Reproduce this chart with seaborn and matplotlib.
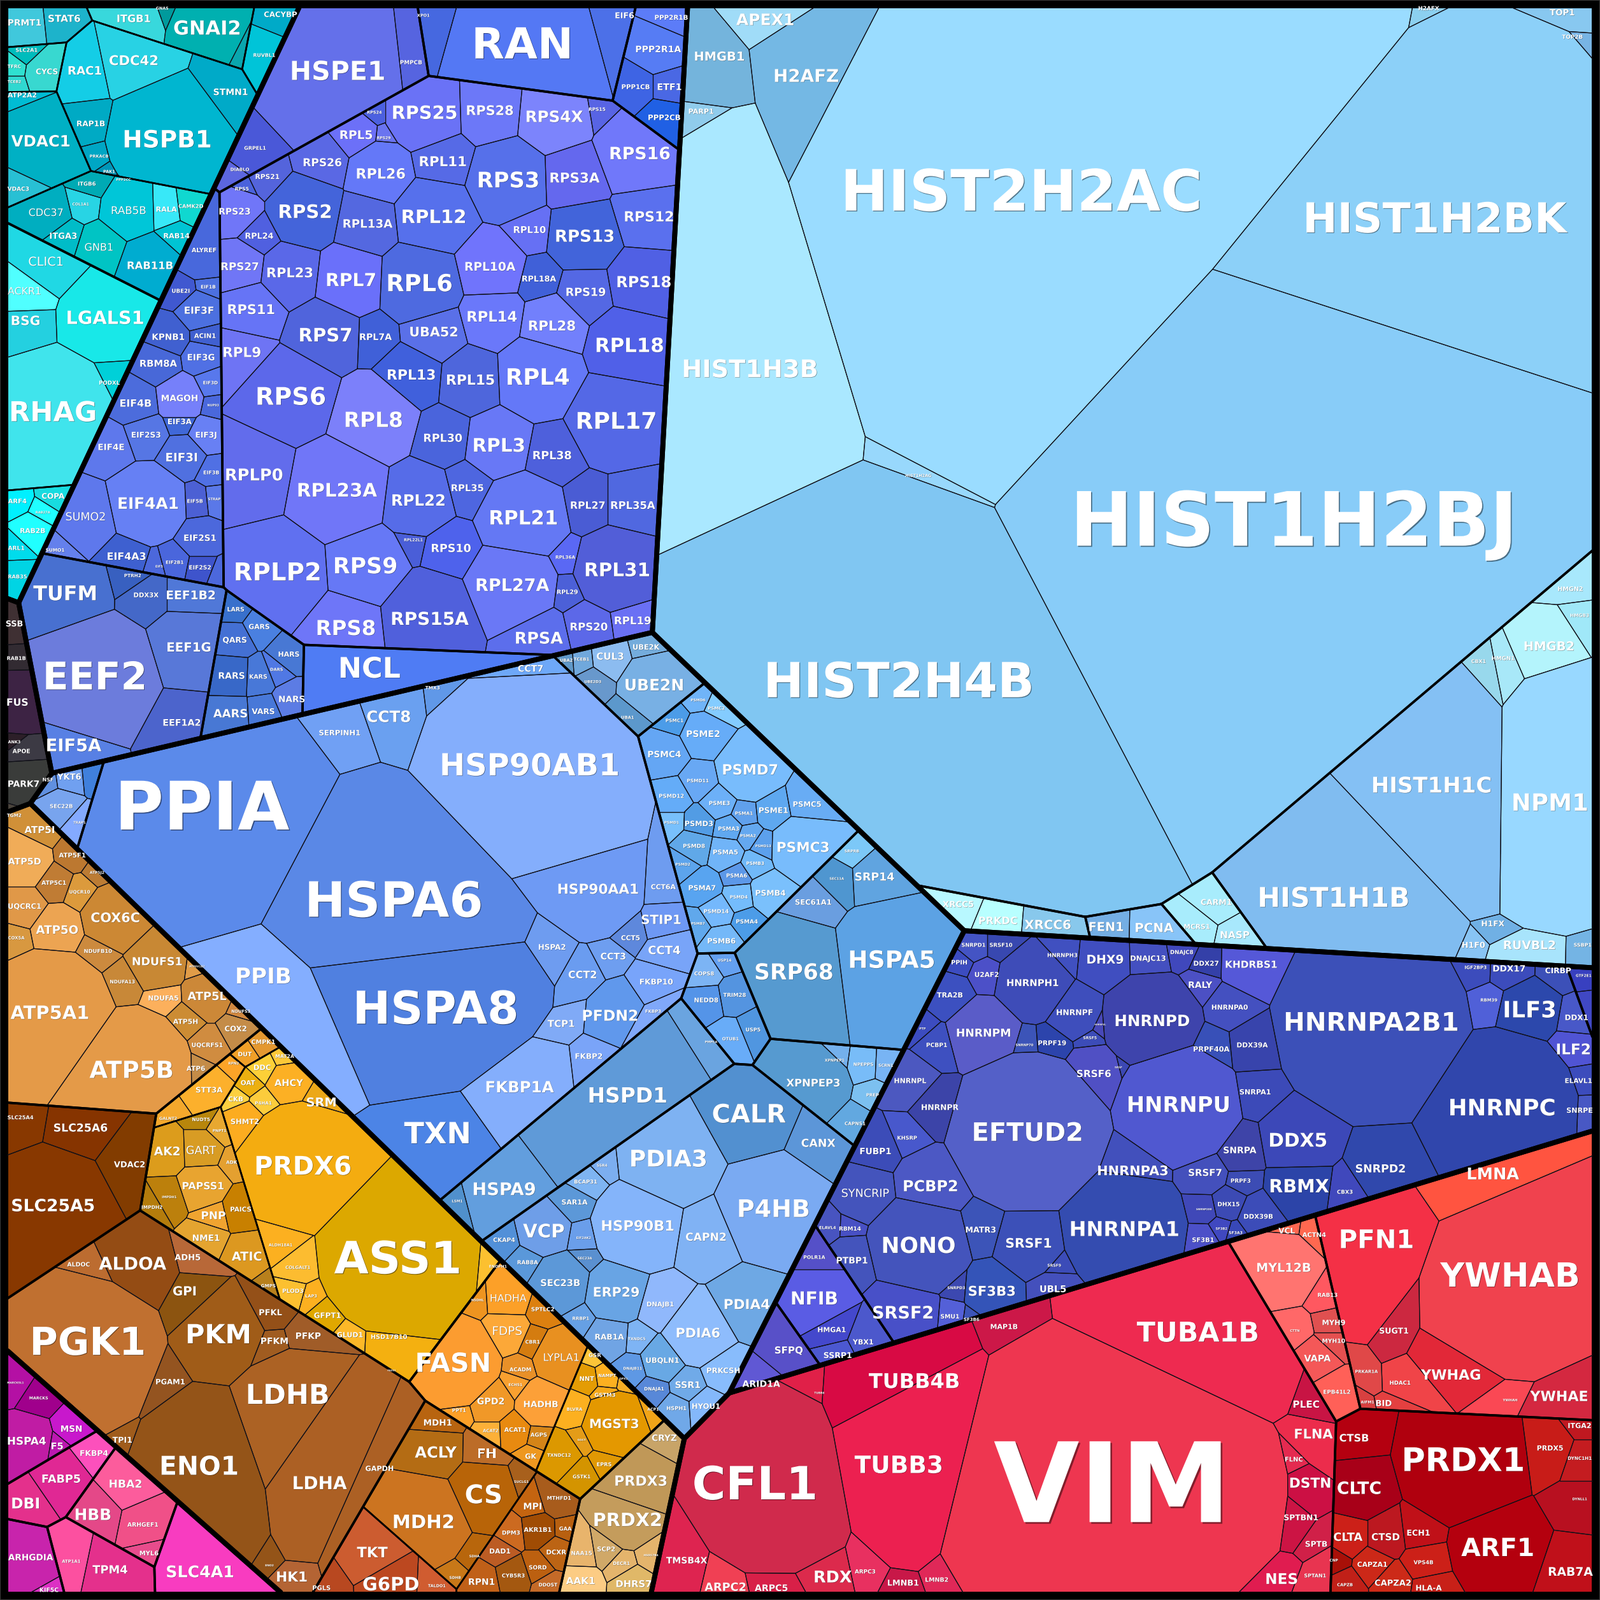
import numpy as np
import seaborn as sns
import matplotlib
matplotlib.use("Agg")
import matplotlib.pyplot as plt
import matplotlib.patheffects as pe
from matplotlib.collections import LineCollection
from matplotlib.colors import ListedColormap
from matplotlib.font_manager import FontProperties
from matplotlib.patches import Rectangle
from matplotlib.textpath import TextPath

# Cells: protein, label x, label y, label width, cell radius, colour.
# The cell outlines themselves are computed below (weighted Voronoi / linear splits).
t1 = [("PRMT1", 24, 22, 32, 22, "#40c8dc"), ("STAT6", 63, 18, 31, 22, "#1db3cb")]
t2 = [("SLC2A1", 26, 49, 21, 13, "#00bcbc"), ("TFRC", 14, 65, 13, 10, "#2fe0d0"), ("TCEB2", 14, 80, 13, 7, "#30d8d0"),
      ("CYCS", 46, 70, 21, 20, "#38d8d0")]
t3 = [("ITGB1", 131, 18, 32, 26, "#38d8dc"), ("GNAS", 159, 8, 12, 7, "#009a9c"), ("GNAI2", 203, 27, 64, 35, "#00b0b0"),
      ("", 242, 47, 5, 4, "#0aa6ae")]
t4 = [("CACYBP", 275, 14, 32, 15, "#00aac8"), ("RUVBL1", 259, 54, 21, 20, "#00c4d8")]
t5 = [("RAC1", 83, 69, 32, 27, "#14cde6"), ("CDC42", 131, 59, 47, 36, "#28d2e4"), ("HSPB1", 164, 136, 84, 60, "#00b6d0"),
      ("STMN1", 226, 90, 33, 26, "#00aac8"), ("RAP1B", 89, 121, 27, 18, "#00aac4"), ("PRKACB", 97, 153, 18, 10, "#00a6c4"),
      ("PAK1", 107, 168, 11, 8, "#0096b8"), ("PPP2CC", 121, 176, 14, 8, "#28d4e8")]
t6 = [("VDAC1", 40, 138, 57, 38, "#00b0c4"), ("ATP2A2", 22, 93, 28, 8, "#00bcd4"), ("VDAC3", 18, 185, 21, 16, "#28c0d4")]
t7 = [("CDC37", 45, 208, 33, 24, "#00aec0"), ("COL1A1", 79, 200, 16, 12, "#28d4e4"), ("ITGA3", 62, 231, 26, 16, "#00bcc8"),
      ("ITGB6", 85, 180, 17, 10, "#00aab4"), ("GNB1", 97, 242, 27, 20, "#00c4c4"), ("RAB5B", 126, 206, 33, 24, "#00c6d8"),
      ("RALA", 163, 205, 20, 12, "#38e8f8"), ("CAMK2D", 187, 202, 24, 12, "#10d8d0"), ("RAB14", 173, 231, 25, 8, "#00c4d4"),
      ("RAB11B", 147, 260, 44, 26, "#00acd0")]
t8 = [("CLIC1", 45, 256, 33, 28, "#20d8e4"), ("ACKR1", 24, 285, 32, 22, "#50ffff"), ("BSG", 25, 314, 27, 14, "#24d0e0"),
      ("LGALS1", 103, 311, 74, 40, "#18e8e8"), ("RHAG", 52, 403, 82, 58, "#40e4ec"), ("PODXL", 107, 375, 20, 10, "#00d0d8")]
t9 = [("COPA", 52, 486, 22, 10, "#18dce0"), ("ARF4", 17, 491, 18, 9, "#00f0ff"), ("RAB27A", 42, 502, 14, 9, "#20ffff"),
      ("RAB2B", 32, 520, 24, 15, "#20ffff"), ("ARL1", 16, 537, 16, 9, "#00dcec"), ("RAB35", 17, 565, 18, 14, "#00d4e4")]

d1 = [("SSB", 14, 611, 16, 17, "#3f3033"), ("RAB1B", 16, 645, 18, 8, "#322b32"), ("FUS", 17, 688, 20, 30, "#3d2344"),
      ("ANK3", 14, 727, 12, 4, "#2c1f28"), ("APOE", 21, 736, 17, 9, "#3c3a44"), ("PARK7", 23, 768, 30, 22, "#3a3c3a"),
      ("TGM2", 14, 799, 14, 8, "#4a443c")]

tr1 = [("HSPE1", 331, 69, 90, 90, "#6470ea"), ("PMPCB", 403, 61, 21, 67, "#5664e0"), ("GRPEL1", 250, 145, 21, 39, "#4a58d8"),
       ("DIABLO", 235, 166, 18, 30, "#5c66e0")]
tr2 = [("XPO1", 415, 15, 12, 9, "#4668e0"), ("RAN", 512, 42, 92, 66, "#5478f4"), ("EIF6", 612, 15, 18, 14, "#4c70e8")]
tr3 = [("PPP2R1B", 658, 17, 32, 14, "#5c7cf8"), ("PPP2R1A", 645, 48, 44, 22, "#567cf4"), ("PPP1CB", 623, 85, 27, 16, "#3e64e4"),
       ("ETF1", 656, 85, 23, 15, "#4a68e4"), ("PPP2CB", 651, 115, 31, 17, "#2060e4")]
tr4 = [("RPS25", 416, 110, 62, 38, "#6a72f6"), ("RPS28", 480, 108, 45, 32, "#6c78f8"), ("RPS4X", 543, 114, 55, 36, "#7c84fc"),
       ("RPS15", 585, 107, 16, 10, "#5864e4"), ("RPS16", 627, 150, 58, 42, "#7078fa"), ("RPL5", 349, 132, 31, 20, "#6c70f8"),
       ("RPS29", 376, 135, 13, 8, "#6a74f0"), ("RPS24", 367, 110, 14, 8, "#4c60e0"), ("RPL11", 434, 158, 45, 28, "#566ae6"),
       ("RPS26", 316, 159, 37, 23, "#5a68e4"), ("RPL26", 373, 170, 47, 32, "#6478f8"), ("RPS3", 498, 176, 58, 40, "#5670ea"),
       ("RPS3A", 563, 174, 48, 32, "#6468ee"), ("RPS21", 262, 173, 23, 16, "#5464dc"), ("RPS5", 237, 185, 13, 10, "#4a62dc"),
       ("RPS2", 299, 207, 50, 36, "#4464da"), ("RPL12", 425, 212, 61, 40, "#5670ec"), ("RPL13A", 360, 219, 48, 32, "#5468e0"),
       ("RPS12", 636, 212, 47, 34, "#5a70ee"), ("RPS13", 573, 231, 56, 36, "#4264da"), ("RPL10", 519, 225, 31, 20, "#6670f4"),
       ("RPS23", 230, 207, 30, 24, "#7076f8"), ("RPL24", 254, 231, 27, 19, "#5060e0"), ("RPL10A", 480, 261, 49, 34, "#7074fc"),
       ("RPS18", 631, 276, 52, 35, "#5060e4"), ("RPL6", 411, 277, 62, 42, "#4e6ae0"), ("RPL7", 344, 274, 47, 35, "#6a70fa"),
       ("RPL23", 284, 267, 44, 30, "#5a68e8"), ("RPS27", 235, 261, 36, 26, "#7076f6"), ("RPL18A", 528, 273, 33, 19, "#4060d8"),
       ("RPS19", 574, 286, 38, 26, "#5468e4"), ("RPS11", 246, 303, 45, 28, "#6674f6"), ("RPL14", 482, 310, 48, 30, "#6a78fa"),
       ("RPL28", 541, 319, 45, 30, "#7280fc"), ("UBA52", 425, 325, 46, 30, "#5a70e8"), ("RPS7", 319, 328, 50, 34, "#5064dc"),
       ("RPL7A", 368, 330, 31, 19, "#4060d8"), ("RPL18", 617, 338, 65, 38, "#5060e8"), ("RPL9", 237, 345, 36, 24, "#6e74f4"),
       ("RPL13", 403, 367, 46, 30, "#4060dc"), ("RPL15", 461, 372, 46, 30, "#4e66dc"), ("RPL4", 527, 369, 60, 40, "#6478f8"),
       ("RPS6", 285, 388, 66, 44, "#5c68ea"), ("RPL8", 366, 411, 55, 42, "#7c80fa"), ("RPL30", 434, 429, 37, 25, "#4a64dc"),
       ("RPL3", 489, 436, 49, 32, "#6878f6"), ("RPL38", 541, 446, 37, 26, "#4e60dc"), ("RPL17", 604, 412, 76, 45, "#5468e6"),
       ("RPLP0", 249, 465, 55, 40, "#626cec"), ("RPL23A", 330, 480, 77, 50, "#7076f8"), ("RPL22", 410, 490, 51, 35, "#566ce8"),
       ("RPL35", 458, 478, 31, 22, "#4e66e0"), ("RPL21", 513, 507, 65, 44, "#6478f4"), ("RPL27", 576, 495, 33, 23, "#4a5cd4"),
       ("RPL35A", 620, 495, 43, 27, "#5068e0"), ("RPL22L1", 405, 529, 18, 7, "#4a5ed8"), ("RPS10", 442, 537, 38, 24, "#4e62ec"),
       ("RPLP2", 272, 560, 82, 48, "#6070f0"), ("RPS9", 358, 554, 60, 38, "#6678f6"), ("RPL31", 605, 558, 62, 42, "#525ed8"),
       ("RPL36A", 554, 546, 19, 13, "#5a68f4"), ("RPL27A", 502, 573, 71, 44, "#6a78f6"), ("RPL29", 556, 580, 20, 14, "#4c60d8"),
       ("RPS15A", 421, 606, 75, 45, "#5060dc"), ("RPS8", 339, 615, 56, 34, "#6e76f8"), ("RPSA", 528, 625, 46, 30, "#5c6eec"),
       ("RPS20", 577, 614, 36, 24, "#5c68e8"), ("RPL19", 620, 608, 35, 22, "#6a70f4")]
tr5 = [("ALYREF", 200, 245, 24, 28, "#4868dc"), ("EIF1B", 204, 281, 14, 8, "#4c70e0"), ("UBE2I", 177, 285, 17, 12, "#4058d0"),
       ("EIF3F", 195, 304, 28, 18, "#4c70e0"), ("KPNB1", 165, 330, 31, 17, "#4060d0"), ("ACIN1", 201, 329, 21, 9, "#4060d0"),
       ("RBM8A", 155, 356, 36, 18, "#4868d8"), ("EIF3G", 197, 350, 26, 14, "#5070e4"), ("EIF3D", 206, 375, 14, 10, "#5878ec"),
       ("MAGOH", 176, 390, 35, 21, "#7680fa"), ("NUP93", 209, 397, 11, 4, "#4a68dc"), ("EIF4B", 133, 395, 30, 20, "#4c6cdc"),
       ("EIF3A", 176, 413, 23, 10, "#4068d8"), ("EIF2S3", 143, 426, 28, 19, "#5676e4"), ("EIF3J", 202, 426, 20, 14, "#6880f4"),
       ("EIF4E", 109, 438, 25, 19, "#5e78ec"), ("EIF3I", 178, 448, 30, 20, "#5070e0"), ("EIF3B", 207, 463, 15, 9, "#5070e4"),
       ("EIF4A1", 145, 493, 58, 38, "#6680f4"), ("EIF5B", 191, 491, 15, 13, "#4c60d4"), ("STRAP", 210, 489, 12, 9, "#5a78e8"),
       ("SUMO2", 84, 506, 38, 28, "#5e78ec"), ("EIF2S1", 196, 527, 31, 18, "#4c68dc"), ("SUMO1", 54, 539, 18, 7, "#6480ec"),
       ("EIF4A3", 124, 545, 37, 15, "#3e60d0"), ("EIF5", 156, 555, 7, 4, "#4c68dc"), ("EIF2B1", 171, 551, 17, 12, "#4a66dc"),
       ("EIF2S2", 196, 556, 21, 11, "#3e54cc"), ("", 214, 563, 5, 6, "#4c68dc")]
tr6 = [("TUFM", 64, 581, 61, 40, "#4870d0"), ("PTRH2", 130, 564, 16, 9, "#3860c0"), ("DDX3X", 143, 583, 24, 13, "#4468c8"),
       ("EEF1B2", 187, 583, 47, 17, "#5078d8"), ("EEF2", 93, 662, 96, 60, "#6c7cdc"), ("EEF1G", 185, 634, 42, 34, "#5878d8"),
       ("EEF1A2", 178, 708, 36, 20, "#4c64cc"), ("EIF5A", 72, 730, 53, 18, "#5880e4")]
tr7 = [("LARS", 231, 597, 16, 9, "#3870cc"), ("GARS", 254, 614, 20, 12, "#4a80e0"), ("QARS", 230, 627, 23, 14, "#4470d4"),
       ("HARS", 283, 641, 20, 14, "#4878d4"), ("RARS", 227, 662, 25, 17, "#3868c8"), ("KARS", 253, 663, 17, 13, "#4878d8"),
       ("DARS", 271, 656, 12, 9, "#5078e4"), ("NARS", 286, 685, 25, 12, "#5c7ce4"), ("AARS", 226, 699, 33, 13, "#4878d4"),
       ("VARS", 258, 697, 22, 10, "#4878d8")]
tr8 = [("NCL", 362, 654, 58, 38, "#4f7cf4")]

f1 = [("NSF", 47, 764, 10, 7, "#6090e0"), ("YKT6", 68, 761, 23, 12, "#70a0f0"), ("SEC22B", 60, 790, 22, 14, "#78a4ee"),
      ("", 89, 759, 5, 6, "#4080dc"), ("TRAP1", 78, 806, 12, 10, "#84aaff")]
f2 = [("PPIA", 198, 789, 165, 105, "#5b8aea"), ("SERPINH1", 333, 718, 40, 26, "#70a0f4"), ("CCT8", 381, 702, 42, 26, "#6aa0f0"),
      ("TMX3", 424, 674, 14, 10, "#6098e8"), ("CCT7", 520, 655, 24, 9, "#6ea8f8"), ("HSP90AB1", 519, 749, 172, 110, "#84aefc"),
      ("HSPA6", 386, 881, 168, 105, "#5a88e6"), ("HSP90AA1", 586, 871, 78, 50, "#6e9af4"), ("PPIB", 258, 956, 52, 45, "#84aeff"),
      ("HSPA8", 427, 987, 156, 95, "#5080e0"), ("HSPA2", 541, 928, 26, 18, "#6e9cf0"), ("CCT6A", 650, 869, 24, 18, "#6e9cf0"),
      ("STIP1", 648, 901, 38, 18, "#6e98f4"), ("CCT5", 618, 919, 18, 10, "#5e88dc"), ("CCT3", 601, 937, 24, 17, "#6e9ef0"),
      ("CCT4", 651, 931, 31, 17, "#78a4f8"), ("CCT2", 571, 955, 27, 20, "#6a9cf0"), ("FKBP10", 643, 962, 32, 18, "#78a4fa"),
      ("PFDN2", 598, 995, 53, 28, "#6098ec"), ("FKBP3", 640, 991, 15, 8, "#80a8fa"), ("TCP1", 550, 1003, 26, 16, "#80aaf6"),
      ("FKBP2", 577, 1035, 26, 14, "#7aa4f8"), ("FKBP1A", 509, 1065, 66, 48, "#84aefc"), ("TXN", 429, 1110, 63, 50, "#4c84e6")]
f3 = [("LSM1", 448, 1177, 10, 24, "#5090cc"), ("HSPA9", 494, 1165, 60, 45, "#629ede"), ("HSPD1", 615, 1073, 75, 110, "#5f9ad8"),
      ("PMPCA", 697, 1021, 12, 81, "#6aa4e0")]
f4 = [("CALR", 734, 1091, 71, 42, "#5290d0"), ("PDIA3", 655, 1135, 73, 48, "#7eb2f2"), ("P4HB", 758, 1184, 68, 52, "#7aaaf2"),
      ("CANX", 802, 1120, 33, 22, "#5c96d8"), ("HSP90B1", 625, 1201, 70, 44, "#84b4fa"), ("CAPN2", 692, 1212, 39, 30, "#80b2f4"),
      ("SSR4", 590, 1142, 10, 6, "#7caef0"), ("BCAP31", 574, 1158, 22, 13, "#7eb4f2"), ("SAR1A", 563, 1178, 25, 14, "#5c98d8"),
      ("VCP", 533, 1206, 40, 24, "#6e9ee8"), ("CKAP4", 494, 1215, 21, 9, "#5290d8"), ("EIF2AK2", 572, 1213, 14, 11, "#6a9eea"),
      ("SEC23B", 549, 1257, 38, 28, "#5c98d8"), ("SEC23A", 573, 1233, 14, 8, "#5a90d0"), ("RAB8A", 517, 1237, 20, 12, "#5a98da"),
      ("ERP29", 604, 1266, 44, 30, "#68a4e4"), ("PDIA4", 732, 1278, 44, 28, "#6ea8e4"), ("DNAJB1", 647, 1278, 26, 22, "#90b8fc"),
      ("PDIA6", 684, 1306, 42, 32, "#8ebcfc"), ("RRBP1", 569, 1292, 16, 9, "#66a0e4"), ("RAB1A", 597, 1310, 28, 19, "#70a4e4"),
      ("TXNDC5", 624, 1312, 17, 12, "#7eb4f4"), ("UBQLN1", 649, 1333, 32, 20, "#68a8e4"), ("PRKCSH", 709, 1343, 32, 19, "#88bcfc"),
      ("DNAJB11", 620, 1341, 18, 12, "#5e98e4"), ("DNAJA1", 641, 1361, 19, 11, "#5888d8"), ("SSR1", 674, 1357, 24, 15, "#70aae8"),
      ("HSPH1", 663, 1380, 19, 12, "#70a8e8"), ("HYOU1", 692, 1378, 27, 16, "#84b8fa")]
f5 = [("PSMD6", 684, 686, 14, 8, "#70b4f8"), ("PSMC2", 702, 694, 16, 8, "#84ccff"), ("PSMC1", 661, 706, 17, 11, "#4c9ce8"),
      ("PSME2", 689, 719, 32, 20, "#66acf8"), ("PSMC4", 651, 739, 32, 20, "#64a6f4"), ("PSMD7", 735, 754, 53, 30, "#78bcfc"),
      ("PSMD11", 684, 765, 21, 14, "#68a8f4"), ("PSMD12", 658, 780, 24, 15, "#64acf8"), ("PSME3", 705, 787, 20, 13, "#6cb0f8"),
      ("PSMC5", 791, 788, 27, 16, "#68acf4"), ("PSME1", 758, 794, 28, 14, "#5ea8f0"), ("PSMA1", 729, 797, 17, 9, "#60a0ec"),
      ("PSMD1", 658, 806, 14, 9, "#78c0fc"), ("PSMD3", 685, 807, 27, 12, "#529ce4"), ("PSMA3", 714, 812, 20, 11, "#60a8f0"),
      ("PSMA2", 733, 819, 15, 8, "#64a8f0"), ("PSMD13", 748, 829, 15, 8, "#5ca0ec"), ("PSMC3", 787, 830, 50, 30, "#78bcfc"),
      ("PSMD8", 680, 829, 21, 15, "#60a8e8"), ("PSMA5", 711, 835, 24, 14, "#70b4f8"), ("PSMB3", 740, 846, 17, 9, "#70b8f8"),
      ("PSMD2", 669, 847, 14, 11, "#5ca4ec"), ("PSMA6", 722, 858, 20, 8, "#5c98e8"), ("PSMA7", 688, 870, 26, 15, "#58a4f0"),
      ("PSMB4", 755, 875, 29, 17, "#7ac0fc"), ("PSMD4", 724, 879, 17, 11, "#74bcfc"), ("PSMD14", 702, 893, 24, 13, "#74b8fc"),
      ("PSMB7", 684, 905, 13, 9, "#60a8ec"), ("PSMA4", 732, 903, 21, 9, "#4c9ce8"), ("PSMB6", 707, 922, 27, 13, "#74b8f8")]
f6 = [("UBA2", 555, 647, 12, 6, "#6098c8"), ("TCEB1", 570, 646, 15, 8, "#70a8dc"), ("CUL3", 598, 643, 26, 16, "#8cbcf0"),
      ("UBE2K", 633, 634, 26, 10, "#74acdc"), ("UBE2D3", 581, 668, 16, 9, "#6898cc"), ("UBE2N", 641, 671, 56, 30, "#78b0e4"),
      ("UBA1", 615, 703, 12, 10, "#5c98cc")]
f7 = [("SEC11A", 820, 861, 14, 10, "#4f96d0"), ("SRP14", 857, 859, 38, 17, "#60a4e0"), ("SEC61A1", 797, 884, 35, 13, "#6a9ee0"),
      ("SRPRB", 835, 834, 14, 7, "#7cc8f8"), ("SRP68", 778, 952, 75, 50, "#569ad0"), ("HSPA5", 874, 940, 82, 55, "#5ca2e4")]
f8 = [("COPS8", 690, 954, 19, 13, "#7cb4f4"), ("USP14", 710, 941, 13, 8, "#64a0f0"), ("NEDD8", 692, 980, 23, 14, "#5494e8"),
      ("TRIM28", 720, 975, 22, 14, "#5494e0"), ("OTUB1", 716, 1018, 16, 13, "#68acf8"), ("USP5", 738, 1009, 14, 11, "#5096e0")]
f9 = [("XPNPEP3", 797, 1061, 52, 34, "#569ad0"), ("XPNPEP1", 818, 1039, 19, 8, "#74b0ec"), ("NPEPPS", 846, 1043, 19, 11, "#78bcf8"),
      ("SCRN1", 868, 1044, 14, 8, "#78b4f4"), ("PREP", 855, 1073, 12, 7, "#7cc0f0"), ("CAPNS1", 838, 1101, 20, 13, "#62a8e0")]

h1 = [("HIST2H2AC", 1001, 186, 346, 210, "#9adcff"), ("HIST1H2BK", 1406, 213, 256, 160, "#8cd0f8"),
      ("HIST1H3B", 735, 361, 130, 95, "#aae8ff"), ("HIST1H2BJ", 1268, 508, 425, 230, "#88ccf8"),
      ("HIST2H4B", 881, 666, 258, 190, "#80c6f2"), ("HIST1H2AG", 900, 466, 25, 3, "#98d8fc"),
      ("H2AFZ", 790, 74, 62, 40, "#74b8e4"), ("APEX1", 750, 19, 56, 14, "#a0dcf8"), ("HMGB1", 705, 55, 48, 25, "#74b4dc"),
      ("PARP1", 687, 109, 24, 14, "#90ccec"), ("H2AFX", 1400, 8, 20, 3, "#8cd0f0"), ("TOP1", 1531, 12, 24, 5, "#88c8f0"),
      ("TOP2B", 1541, 36, 20, 8, "#78b4e4")]
h3 = [("HMGN2", 1539, 577, 24, 14, "#a8e8fc"), ("HMGB3", 1548, 603, 18, 10, "#a0e8f8"), ("HMGB2", 1518, 633, 48, 26, "#b4f4fc"),
      ("HMGN1", 1473, 645, 22, 11, "#a8e8f8"), ("CBX1", 1449, 648, 14, 8, "#98d8ec"), ("HIST1H1C", 1403, 769, 115, 85, "#84c0f4"),
      ("HIST1H1B", 1307, 879, 145, 75, "#80bcf0"), ("NPM1", 1519, 786, 72, 60, "#98d8ff"), ("H1FX", 1463, 905, 22, 12, "#70b0e4"),
      ("H1F0", 1444, 926, 22, 10, "#88c4f4"), ("RUVBL2", 1499, 926, 50, 14, "#a8e4fc"), ("SSBP1", 1551, 926, 17, 9, "#74b4e4")]
h4 = [("XRCC5", 939, 886, 30, 14, "#b8f8ff"), ("PRKDC", 978, 902, 37, 14, "#b8ffff"), ("XRCC6", 1027, 906, 45, 16, "#88c8ec")]
h5 = [("FEN1", 1084, 908, 33, 14, "#74aee4"), ("PCNA", 1131, 909, 37, 16, "#88c4f8")]
h6 = [("CARM1", 1192, 884, 30, 16, "#a8ecfc"), ("MCRS1", 1173, 908, 25, 13, "#a8ecfc"), ("NASP", 1210, 916, 28, 10, "#a8e8fc")]

s1 = [("SNRPD1", 954, 926, 23, 14, "#4454c4"), ("SRSF10", 981, 926, 22, 14, "#3848b0"), ("PPIH", 940, 943, 15, 10, "#3c4cc0"),
      ("U2AF2", 967, 955, 23, 14, "#4c50c8"), ("HNRNPH3", 1041, 936, 29, 16, "#4050c0"), ("DHX9", 1083, 940, 35, 26, "#404ec0"),
      ("DNAJC13", 1125, 939, 34, 20, "#4450c0"), ("DNAJC8", 1158, 933, 22, 13, "#4048bc"), ("DDX27", 1182, 944, 24, 13, "#3440a8"),
      ("KHDRBS1", 1226, 945, 50, 28, "#5558d8"), ("RALY", 1176, 965, 23, 14, "#4c50c4"), ("TRA2B", 931, 975, 25, 20, "#3c50c0"),
      ("HNRNPH1", 1012, 963, 50, 36, "#3e4cb8"), ("HNRNPF", 1053, 992, 35, 24, "#3e4ebc"), ("HNRNPA0", 1205, 987, 35, 20, "#4450c0"),
      ("HNRNPD", 1129, 1000, 72, 48, "#3e44ac"), ("PTP", 904, 1008, 6, 6, "#3c4cc0"), ("PCBP1", 918, 1024, 20, 14, "#3e50c0"),
      ("HNRNPM", 964, 1012, 52, 34, "#5a5cc8"), ("SNRNP70", 1004, 1024, 17, 10, "#3c54b8"), ("PRPF19", 1031, 1022, 27, 12, "#2c44ac"),
      ("SRSF5", 1068, 1017, 13, 5, "#3c4cb8"), ("HNRNPUL", 1078, 1004, 11, 6, "#4848b8"), ("SRSF6", 1072, 1052, 33, 26, "#5050c4"),
      ("SRSF", 1096, 1046, 7, 5, "#3c48b4"), ("PRPF40A", 1187, 1028, 35, 20, "#3850b8"), ("DDX39A", 1227, 1024, 30, 22, "#3844ac"),
      ("SNRPA1", 1230, 1070, 30, 16, "#3c4ab8"), ("HNRNPU", 1155, 1082, 98, 60, "#5058d0"), ("HNRNPL", 892, 1059, 31, 20, "#4c58c0"),
      ("HNRNPR", 921, 1085, 36, 22, "#3c44a8"), ("KHSRP", 889, 1115, 19, 10, "#4858cc"), ("FUBP1", 858, 1128, 30, 20, "#3c4cb8"),
      ("EFTUD2", 1007, 1109, 105, 78, "#5460c8"), ("SNRPA", 1215, 1127, 32, 20, "#3e44a8"), ("SRSF7", 1181, 1149, 32, 19, "#4450bc"),
      ("HNRNPA3", 1110, 1147, 68, 30, "#4250bc"), ("PRPF3", 1216, 1157, 19, 8, "#3c4cb4"), ("PCBP2", 912, 1162, 52, 34, "#4c58c4"),
      ("SYNCRIP", 848, 1169, 46, 28, "#4454bc"), ("DHX15", 1204, 1180, 21, 14, "#3c4ab4"), ("SNRNP200", 1180, 1185, 15, 10, "#4048b8"),
      ("DDX39B", 1233, 1192, 28, 18, "#3c4cb8"), ("ELAVL4", 811, 1203, 16, 12, "#4854c0"), ("RBM14", 833, 1204, 21, 9, "#4850c4"),
      ("MATR3", 961, 1205, 29, 20, "#3c54b8"), ("HNRNPA1", 1102, 1204, 105, 60, "#344cb0"), ("SF3B2", 1197, 1204, 11, 8, "#4048c0"),
      ("SF3A3", 1211, 1208, 13, 8, "#3848b8"), ("SF3B1", 1179, 1215, 21, 12, "#4c50c8"), ("NONO", 900, 1220, 70, 50, "#4454bc"),
      ("SRSF1", 1008, 1218, 44, 32, "#3c50b8"), ("PTBP1", 835, 1235, 30, 24, "#4454bc"), ("SRSF9", 1033, 1240, 13, 8, "#3c4cb8"),
      ("SNRPD3", 937, 1262, 17, 9, "#3c48b0"), ("SF3B3", 972, 1265, 45, 26, "#3454b8"), ("UBL5", 1032, 1263, 25, 16, "#4450bc"),
      ("SRSF2", 885, 1286, 58, 36, "#4850c8"), ("SMU1", 931, 1290, 18, 14, "#5460d8"), ("SF3B6", 952, 1293, 15, 9, "#3c54b8"),
      ("IGF2BP3", 1446, 948, 21, 14, "#3c4cbc"), ("DDX17", 1479, 949, 31, 18, "#3c4cbc"), ("CIRBP", 1527, 951, 25, 14, "#3c50b8"),
      ("RBM39", 1459, 980, 16, 10, "#5060d8"), ("ILF3", 1499, 989, 49, 28, "#2c48ac"), ("DDX1", 1545, 997, 22, 14, "#4858c8"),
      ("ILF2", 1542, 1028, 32, 15, "#5054d4"), ("ELAVL1", 1547, 1059, 26, 11, "#3c4cbc"), ("SNRPE", 1548, 1088, 25, 11, "#4858c4"),
      ("HNRNPA2B1", 1344, 1001, 168, 95, "#3c50b8"), ("HNRNPC", 1472, 1085, 102, 75, "#3046ac"), ("DDX5", 1272, 1117, 55, 34, "#3c48b8"),
      ("RBMX", 1273, 1162, 57, 28, "#2c44a8"), ("SNRPD2", 1353, 1145, 48, 22, "#3048ac"), ("CBX3", 1318, 1168, 15, 9, "#4048bc")]
s2 = [("GTF2E1", 1552, 956, 15, 12, "#3840c0"), ("", 1555, 982, 4, 6, "#4048c4")]
s3 = [("POLR1A", 798, 1232, 21, 12, "#5550c8"), ("NFIB", 798, 1272, 44, 28, "#5a5ce4"), ("HMGA1", 815, 1303, 27, 14, "#4448cc"),
      ("YBX1", 846, 1315, 20, 10, "#4c58cc"), ("SSRP1", 821, 1328, 27, 13, "#4c58d0")]
s4 = [("SFPQ", 773, 1323, 27, 24, "#5850c8"), ("ARID1A", 746, 1356, 37, 20, "#6058d4")]

r1 = [("VIM", 1090, 1452, 222, 135, "#ee3650"), ("TUBA1B", 1174, 1305, 118, 70, "#ee2a50"), ("TUBB4B", 896, 1353, 88, 30, "#d80a44"),
      ("TUBB3", 881, 1435, 85, 65, "#ec2050"), ("CFL1", 740, 1453, 118, 85, "#d02a4c"), ("MAP1B", 984, 1300, 26, 12, "#cc1848"),
      ("TUBB6", 803, 1365, 10, 5, "#e02048"), ("TMSB4X", 673, 1529, 40, 22, "#de2450"), ("ARPC2", 711, 1555, 40, 14, "#f04054"),
      ("ARPC5", 756, 1556, 32, 12, "#d82048"), ("RDX", 816, 1545, 36, 18, "#dc2a4c"), ("ARPC3", 848, 1540, 20, 10, "#e83060"),
      ("LMNB1", 885, 1551, 30, 10, "#c81848"), ("LMNB2", 918, 1548, 22, 8, "#e02858"), ("PLEC", 1280, 1376, 25, 14, "#c81444"),
      ("FLNA", 1287, 1405, 37, 16, "#ec2c4c"), ("FLNC", 1268, 1430, 17, 9, "#e42a50"), ("DSTN", 1284, 1453, 39, 14, "#cc1044"),
      ("SPTBN1", 1275, 1487, 33, 18, "#cc1444"), ("SPTB", 1290, 1513, 21, 9, "#d02048"), ("NES", 1256, 1547, 30, 16, "#e01c50"),
      ("SPTAN1", 1289, 1544, 21, 13, "#e83450")]
r2 = [("MYL12B", 1258, 1242, 52, 34, "#ff7470"), ("VCL", 1261, 1206, 16, 7, "#ff6850"), ("ACTN4", 1288, 1210, 23, 11, "#ff6850"),
      ("RAB13", 1301, 1269, 19, 12, "#ff5860"), ("MYH9", 1307, 1296, 22, 11, "#e05050"), ("CTTN", 1269, 1304, 9, 5, "#ff6868"),
      ("MYH10", 1307, 1314, 22, 10, "#e45050"), ("VAPA", 1291, 1331, 26, 15, "#f45858"), ("EPB41L2", 1310, 1364, 26, 16, "#ff6058")]
r3 = [("LMNA", 1463, 1150, 50, 24, "#ff5440"), ("PFN1", 1349, 1214, 70, 48, "#f43046"), ("YWHAB", 1480, 1249, 135, 90, "#f0424e"),
      ("SUGT1", 1366, 1304, 28, 20, "#cc2840"), ("PRKAR1A", 1339, 1344, 22, 16, "#e04848"), ("HDAC1", 1372, 1355, 20, 14, "#f04448"),
      ("YWHAG", 1422, 1347, 58, 32, "#e22838"), ("YWHAE", 1528, 1368, 56, 14, "#d42840"), ("YWHAH", 1480, 1372, 14, 8, "#fa4854"),
      ("BID", 1356, 1375, 15, 7, "#e44040"), ("AIFM1", 1340, 1374, 13, 5, "#d84040")]
r4 = [("CTSB", 1327, 1409, 28, 16, "#b40010"), ("CLTC", 1332, 1458, 42, 26, "#a80018"), ("CLTA", 1321, 1506, 28, 14, "#cc2018"),
      ("CTSD", 1358, 1506, 27, 13, "#bc1820"), ("ECH1", 1390, 1502, 22, 8, "#c01018"), ("PRDX1", 1434, 1430, 116, 62, "#b0000e"),
      ("PRDX5", 1519, 1419, 25, 22, "#c81c18"), ("ITGA2", 1548, 1397, 22, 9, "#c01820"), ("DYNC1H1", 1548, 1429, 23, 15, "#c41c20"),
      ("DYNLL1", 1548, 1469, 14, 8, "#b81020"), ("ARF1", 1468, 1516, 70, 42, "#b4000e"), ("RAB7A", 1539, 1540, 43, 20, "#c0101a"),
      ("VPS4B", 1395, 1531, 19, 11, "#cc2018"), ("HLA-A", 1400, 1556, 25, 7, "#c82018"), ("CAPZA1", 1345, 1533, 29, 10, "#cc2818"),
      ("CAPZA2", 1365, 1551, 35, 11, "#cc2a18"), ("CAPZB", 1318, 1553, 15, 8, "#c02018"), ("CNP", 1307, 1529, 8, 5, "#a81008")]

o1 = [("ATP5I", 39, 813, 29, 17, "#d09038"), ("ATP5D", 24, 844, 32, 26, "#f0ac58"), ("ATP5F1", 71, 838, 26, 14, "#bc7830"),
      ("ATP5J2", 95, 855, 14, 9, "#bc7c34"), ("ATP5C1", 53, 865, 24, 17, "#c07c34"), ("UQCR10", 78, 874, 20, 14, "#dc9a3c"),
      ("UQCRC1", 24, 888, 32, 20, "#e09848"), ("COX6C", 113, 899, 47, 32, "#cc8834"), ("ATP5O", 56, 911, 41, 24, "#eca452"),
      ("COX5A", 16, 919, 16, 11, "#d89840"), ("NDUFB10", 96, 932, 27, 16, "#cc8a3e"), ("NDUFS1", 154, 942, 48, 28, "#c88834"),
      ("ATP6V1B2", 193, 947, 15, 8, "#e09c48"), ("NDUFA13", 120, 962, 24, 16, "#c88838"), ("ATP5L", 203, 976, 38, 22, "#cc8838"),
      ("NDUFA5", 160, 978, 29, 13, "#fcb05c"), ("ATP5H", 182, 1001, 24, 15, "#cc8c34"), ("NDUFS3", 236, 991, 18, 9, "#d08840"),
      ("ATP5A1", 49, 992, 76, 62, "#e49a48"), ("COX2", 231, 1008, 21, 13, "#c48c48"), ("UQCRFS1", 203, 1024, 30, 16, "#d08c40"),
      ("ATP6", 192, 1047, 18, 14, "#c48c48"), ("ATP5B", 129, 1048, 81, 60, "#e49a48")]
o2 = [("SLC25A4", 20, 1095, 25, 12, "#883800"), ("SLC25A6", 79, 1105, 52, 26, "#863400"), ("VDAC2", 127, 1141, 30, 24, "#823c00"),
      ("SLC25A5", 52, 1181, 80, 55, "#883800")]
o3 = [("CMPK1", 258, 1021, 23, 10, "#e49830"), ("DUT", 240, 1033, 13, 8, "#f0a028")]
o4 = [("RPN2", 229, 1042, 10, 7, "#fca428"), ("STT3A", 205, 1068, 26, 20, "#fcb02c"), ("GALNT2", 165, 1096, 17, 9, "#f4a82c")]
o5 = [("MAT2A", 279, 1035, 18, 9, "#fcc838"), ("DDC", 257, 1046, 16, 11, "#fcd038"), ("AHCY", 283, 1061, 28, 19, "#fcb024"),
      ("OAT", 243, 1061, 14, 10, "#ecb010"), ("SRM", 315, 1080, 28, 15, "#eca818"), ("CKB", 231, 1077, 14, 9, "#fcd040"),
      ("P4HA1", 258, 1081, 16, 10, "#fccc3c"), ("SHMT2", 240, 1099, 27, 18, "#fcac20"), ("PRDX6", 297, 1142, 92, 62, "#f4ac10"),
      ("ASS1", 390, 1232, 122, 78, "#dca800"), ("ENOPH1", 488, 1241, 17, 10, "#fcc030"), ("ALDH18A1", 275, 1220, 23, 12, "#fcb020"),
      ("COLGALT1", 292, 1242, 24, 15, "#fcbc30"), ("PLOD3", 287, 1265, 20, 11, "#fcc030"), ("LAP3", 305, 1270, 11, 8, "#fcb020"),
      ("GFPT1", 321, 1289, 26, 13, "#e0a800"), ("GLUD1", 343, 1308, 25, 11, "#fcb828"), ("HSD17B10", 381, 1310, 35, 20, "#f4b010")]
o6 = [("NUDT5", 197, 1097, 17, 7, "#b8860c"), ("PNPT1", 215, 1108, 13, 10, "#e8a830"), ("AK2", 164, 1128, 25, 19, "#dc9c1c"),
      ("GART", 197, 1127, 29, 19, "#d89c24"), ("ADK", 227, 1139, 11, 8, "#e4a030"), ("IMPDH1", 166, 1173, 14, 13, "#bc800c"),
      ("PAPSS1", 199, 1162, 40, 22, "#e8a430"), ("IMPDH2", 149, 1183, 20, 10, "#b47c0c"), ("PAICS", 236, 1185, 20, 17, "#c88000"),
      ("PNP", 209, 1191, 23, 13, "#f0a430"), ("NME1", 202, 1213, 26, 15, "#e4a430"), ("ATIC", 242, 1231, 29, 19, "#dc9820"),
      ("GMPS", 263, 1260, 14, 8, "#b8801c")]
o7 = [("NSDHL", 468, 1274, 12, 6, "#ee9420"), ("HADHA", 498, 1272, 35, 20, "#fca028"), ("SPTLC2", 532, 1283, 22, 13, "#dc8010"),
      ("FDPS", 497, 1304, 28, 20, "#fca838"), ("CBR1", 522, 1315, 14, 12, "#d47c10"), ("FASN", 444, 1335, 70, 45, "#fc9c30"),
      ("LYPLA1", 550, 1330, 34, 26, "#e89020"), ("ACADM", 510, 1342, 21, 9, "#e89028"), ("ECHS1", 505, 1357, 13, 10, "#f8a030"),
      ("GPD2", 481, 1373, 26, 20, "#f09828"), ("HADHB", 530, 1376, 33, 23, "#fca038"), ("PPT1", 450, 1382, 13, 9, "#fca028"),
      ("ACAT2", 481, 1402, 15, 9, "#fcb038"), ("ACAT1", 505, 1401, 21, 15, "#e88a10"), ("AGPS", 528, 1406, 16, 11, "#d48418"),
      ("GK", 520, 1427, 11, 7, "#ee9820"), ("FADS1", 384, 1343, 8, 5, "#c87810")]
o8 = [("GSR", 583, 1328, 12, 8, "#fcc438"), ("NNT", 575, 1351, 14, 10, "#e49c04"), ("NAMPT", 595, 1348, 17, 11, "#fcb020"),
      ("GPX1", 611, 1351, 8, 4, "#f4ac24"), ("GSTM3", 593, 1367, 20, 7, "#f4a818"), ("BLVRA", 563, 1381, 15, 13, "#fcb020"),
      ("ACP1", 640, 1381, 11, 7, "#f0a418"), ("MGST3", 602, 1395, 47, 30, "#e49800"), ("TXNDC12", 548, 1426, 23, 18, "#dc9800"),
      ("GGCT", 570, 1411, 8, 5, "#e49c18"), ("GSTK1", 570, 1447, 17, 14, "#d49400"), ("EPRS", 592, 1435, 14, 10, "#e09804")]
o9 = [("MDH1", 429, 1394, 27, 12, "#b86410"), ("ACLY", 427, 1423, 41, 22, "#b46c14"), ("FH", 477, 1424, 17, 18, "#bc6c28"),
      ("CS", 474, 1464, 34, 33, "#b86408"), ("SUCLG1", 511, 1452, 14, 13, "#a8601c"), ("MDH2", 415, 1491, 58, 44, "#cc7420"),
      ("SDHA", 465, 1525, 10, 8, "#b8660c"), ("SDHB", 446, 1546, 11, 7, "#c87818")]
o9b = [("TKT", 365, 1521, 30, 22, "#cc5c30"), ("G6PD", 383, 1552, 54, 20, "#bc4820"), ("TALDO1", 428, 1554, 17, 10, "#d05c30"),
       ("PGLS", 315, 1556, 17, 6, "#b84820")]
o10 = [("MTHFD1", 548, 1468, 23, 17, "#a85c1c"), ("MPI", 522, 1476, 17, 9, "#c46410"), ("AKR1B1", 527, 1499, 27, 15, "#a04c04"),
       ("GAA", 554, 1498, 12, 7, "#b86010"), ("DPM3", 501, 1502, 17, 12, "#cc6a20"), ("DAD1", 490, 1520, 20, 11, "#bc5c24"),
       ("DCXR", 545, 1521, 19, 12, "#bc6414"), ("SORD", 527, 1536, 17, 12, "#bc6010"), ("CYB5R3", 503, 1544, 22, 15, "#a45810"),
       ("RPN1", 472, 1550, 25, 15, "#c06018"), ("DDOST", 537, 1553, 18, 10, "#c46a28")]
o11 = [("CRYZ", 651, 1409, 24, 17, "#c8a468"), ("PRDX3", 628, 1451, 50, 32, "#c09858"), ("PRDX2", 615, 1489, 65, 28, "#c49c5c"),
       ("SCP2", 594, 1518, 17, 13, "#d0a868"), ("NAA15", 570, 1522, 20, 13, "#e8b46c"), ("DECR1", 609, 1532, 16, 10, "#e4b46c"),
       ("HSD17B4", 638, 1524, 14, 10, "#e4b46c"), ("AAK1", 569, 1549, 28, 14, "#fccc84"), ("DHRS7", 621, 1552, 34, 15, "#e0b868")]
o12 = [("ALDOA", 130, 1238, 66, 32, "#944c14"), ("ADH5", 184, 1232, 25, 16, "#b86838"), ("ALDOC", 77, 1239, 22, 10, "#bc6c30"),
       ("GPI", 181, 1265, 22, 18, "#8c5410"), ("PGK1", 86, 1314, 108, 68, "#c07030"), ("PKM", 214, 1307, 60, 38, "#a05c18"),
       ("PFKL", 265, 1286, 22, 12, "#945018"), ("PFKM", 269, 1314, 26, 13, "#a05c20"), ("PFKP", 302, 1309, 24, 12, "#a05c28"),
       ("PGAM1", 167, 1354, 28, 16, "#945420"), ("TPI1", 120, 1411, 19, 12, "#a05c1c"), ("ENO1", 195, 1436, 74, 62, "#945418"),
       ("LDHB", 282, 1366, 78, 58, "#ac6224"), ("LDHA", 313, 1453, 52, 50, "#ac6024"), ("GAPDH", 372, 1439, 27, 22, "#ac6024"),
       ("ENO2", 264, 1534, 8, 4, "#945418"), ("HK1", 286, 1545, 29, 15, "#b46434")]

m1 = [("MARCKSL1", 15, 1355, 16, 9, "#b410a4"), ("MARCKS", 38, 1370, 18, 11, "#a0008c"), ("HSPA4", 26, 1412, 37, 24, "#c01ca4"),
      ("MSN", 70, 1400, 20, 13, "#c818cc"), ("F5", 56, 1417, 11, 8, "#bc18b0")]
m2 = [("FKBP4", 92, 1424, 27, 11, "#fc50bc"), ("FABP5", 60, 1449, 37, 22, "#e02894"), ("DBI", 25, 1473, 26, 18, "#e4308c")]
m2b = [("HBA2", 123, 1454, 31, 21, "#fc5c9c"), ("HBB", 91, 1484, 34, 24, "#e44888"), ("ARHGEF1", 140, 1494, 30, 19, "#f05088"),
       ("MYL6", 146, 1522, 18, 11, "#e84c8c")]
m2c = [("TPM4", 108, 1538, 34, 22, "#e4308c"), ("ATP1A1", 70, 1530, 18, 13, "#fc50a0")]
m3 = [("ARHGDIA", 30, 1526, 44, 30, "#c824ac"), ("KIF5C", 48, 1558, 18, 5, "#dc30c4")]
m4 = [("SLC4A1", 196, 1540, 65, 36, "#f83cc0")]

blocks = {"t1": t1, "t2": t2, "t3": t3, "t4": t4, "t5": t5, "t6": t6, "t7": t7, "t8": t8, "t9": t9, "d1": d1,
          "tr1": tr1, "tr2": tr2, "tr3": tr3, "tr4": tr4, "tr5": tr5, "tr6": tr6, "tr7": tr7, "tr8": tr8,
          "f1": f1, "f2": f2, "f3": f3, "f4": f4, "f5": f5, "f6": f6, "f7": f7, "f8": f8, "f9": f9,
          "h1": h1, "h3": h3, "h4": h4, "h5": h5, "h6": h6, "s1": s1, "s2": s2, "s3": s3, "s4": s4,
          "r1": r1, "r2": r2, "r3": r3, "r4": r4, "o1": o1, "o2": o2, "o3": o3, "o4": o4, "o5": o5, "o6": o6,
          "o7": o7, "o8": o8, "o9": o9, "o9b": o9b, "o10": o10, "o11": o11, "o12": o12,
          "m1": m1, "m2": m2, "m2b": m2b, "m2c": m2c, "m3": m3, "m4": m4}

parents = {
    "root": ["signal", "dark", "translation", "folding", "histone", "splice", "cyto", "metab", "magenta"],
    "signal": ["sU", "sL"], "sU": ["t1", "t2", "t3", "t4", "t5", "t6", "t7"], "sL": ["t8", "t9"],
    "dark": ["d1"],
    "translation": ["tr1", "tr2", "tr3", "tr4", "tr5", "tr6", "tr7", "tr8"],
    "folding": ["f1", "f2", "f3", "f4", "f5", "f6", "f7", "f8", "f9"],
    "histone": ["h1", "h3", "h4", "h5", "h6"],
    "splice": ["s1", "s2", "s3", "s4"],
    "cyto": ["r1", "r2", "r3", "r4"],
    "metab": ["o1", "o2", "mA", "mB", "o12", "mD", "o11"],
    "mA": ["o3", "o4", "o5", "o6"], "mB": ["o7", "o8"], "mD": ["o9", "o9b", "o10"],
    "magenta": ["m1", "m2", "m2b", "m2c", "m3", "m4"],
}

# rough outlines; the splits are fitted so that they fall between them
hulls = {
    "signal": [(298, 8), (8, 8), (8, 580), (22, 580)], "dark": [(8, 580), (22, 580), (42, 790), (8, 815)],
    "translation": [(300, 8), (678, 8), (640, 620), (40, 755), (22, 582)],
    "folding": [(40, 757), (640, 622), (945, 912), (718, 1373), (660, 1395), (42, 790)],
    "histone": [(678, 8), (1560, 8), (1560, 945), (945, 913), (895, 868), (640, 622)],
    "splice": [(945, 913), (1560, 945), (1560, 1100), (718, 1373)],
    "cyto": [(660, 1395), (1560, 1100), (1560, 1560), (645, 1560)],
    "metab": [(8, 815), (42, 790), (660, 1395), (645, 1560), (274, 1560), (8, 1327)],
    "magenta": [(8, 1327), (274, 1560), (8, 1560)],
    "sU": [(8, 8), (298, 8), (158, 293), (8, 217)], "sL": [(8, 217), (158, 293), (22, 580), (8, 580)],
    "t1": [(8, 8), (89, 8), (89, 18), (68, 40), (45, 34), (8, 47)], "t2": [(8, 47), (45, 34), (68, 40), (57, 90), (8, 88)],
    "t3": [(89, 8), (252, 8), (240, 71), (89, 18)], "t4": [(252, 8), (298, 8), (253, 97), (240, 71)],
    "t5": [(89, 18), (240, 71), (253, 97), (214, 178), (171, 197), (90, 168), (57, 90), (68, 40)],
    "t6": [(8, 88), (57, 90), (90, 168), (8, 209)], "t7": [(8, 209), (90, 168), (171, 197), (214, 178), (158, 293), (8, 217)],
    "t8": [(8, 217), (158, 293), (72, 474), (28, 482), (8, 479)], "t9": [(8, 480), (28, 482), (72, 474), (22, 580), (8, 580)],
    "tr1": [(300, 8), (403, 8), (420, 74), (213, 187)], "tr2": [(403, 8), (630, 8), (601, 101), (420, 74)],
    "tr3": [(630, 8), (678, 8), (670, 145), (601, 101)],
    "tr4": [(213, 187), (420, 74), (601, 101), (670, 145), (640, 620), (540, 641), (295, 631), (217, 573)],
    "tr5": [(213, 187), (217, 573), (42, 542)], "tr6": [(22, 582), (42, 542), (222, 579), (202, 718), (42, 755)],
    "tr7": [(222, 579), (295, 631), (300, 695), (202, 718)], "tr8": [(295, 631), (540, 641), (300, 695)],
    "f1": [(43, 757), (100, 744), (85, 830), (43, 790)],
    "f2": [(100, 744), (541, 641), (626, 722), (684, 935), (644, 999), (437, 1171), (85, 830)],
    "f3": [(437, 1171), (644, 999), (687, 999), (722, 1042), (479, 1212)],
    "f4": [(479, 1212), (722, 1042), (737, 1044), (838, 1123), (718, 1373), (660, 1395)],
    "f5": [(626, 722), (691, 671), (842, 816), (718, 933), (684, 935)], "f6": [(541, 641), (640, 622), (691, 671), (626, 722)],
    "f7": [(718, 933), (842, 816), (944, 913), (885, 1033), (754, 1019)],
    "f8": [(684, 935), (718, 933), (754, 1019), (737, 1044), (722, 1042), (670, 977)],
    "f9": [(754, 1019), (885, 1033), (838, 1123), (737, 1044)],
    "h1": [(678, 8), (1560, 8), (1560, 540), (1170, 870), (1064, 899), (895, 868), (640, 622)],
    "h3": [(1205, 842), (1560, 540), (1560, 945), (1235, 918)],
    "h4": [(895, 868), (1064, 900), (1064, 917), (944, 913)], "h5": [(1064, 900), (1151, 895), (1162, 921), (1064, 917)],
    "h6": [(1151, 895), (1170, 870), (1205, 845), (1235, 918), (1162, 921)],
    "s1": [(945, 913), (1538, 940), (1560, 1013), (1560, 1100), (890, 1335), (800, 1207)],
    "s2": [(1538, 940), (1560, 945), (1560, 1013)], "s3": [(800, 1207), (890, 1335), (815, 1345), (760, 1285)],
    "s4": [(760, 1285), (815, 1345), (718, 1373)],
    "r1": [(660, 1395), (1209, 1219), (1309, 1396), (1303, 1560), (645, 1560)], "r2": [(1209, 1219), (1299, 1188), (1331, 1383), (1310, 1396)],
    "r3": [(1299, 1188), (1560, 1100), (1560, 1387), (1331, 1383)], "r4": [(1310, 1396), (1331, 1383), (1560, 1387), (1560, 1560), (1303, 1560)],
    "o1": [(8, 815), (42, 790), (258, 1005), (155, 1090), (8, 1078)], "o2": [(8, 1078), (155, 1090), (136, 1185), (8, 1275)],
    "mA": [(156, 1090), (259, 1005), (495, 1231), (385, 1345), (136, 1185)],
    "mB": [(495, 1231), (653, 1388), (570, 1470), (385, 1345)],
    "o12": [(8, 1275), (136, 1185), (419, 1372), (368, 1493), (295, 1560), (274, 1560), (8, 1327)],
    "mD": [(419, 1372), (570, 1470), (547, 1560), (295, 1560), (368, 1493)],
    "o11": [(653, 1388), (660, 1395), (645, 1560), (547, 1560), (570, 1470)],
    "o3": [(228, 1031), (259, 1005), (277, 1024), (241, 1045)], "o4": [(156, 1090), (228, 1031), (241, 1045), (217, 1082), (154, 1106)],
    "o5": [(241, 1045), (277, 1024), (495, 1231), (385, 1345), (278, 1277), (217, 1082)],
    "o6": [(154, 1106), (217, 1082), (278, 1277), (136, 1185)],
    "o7": [(495, 1231), (578, 1317), (526, 1438), (385, 1345)], "o8": [(578, 1317), (653, 1388), (570, 1470), (526, 1438)],
    "o9": [(419, 1372), (522, 1439), (505, 1477), (447, 1560), (368, 1493)], "o9b": [(368, 1493), (447, 1560), (295, 1560)],
    "o10": [(522, 1439), (570, 1470), (546, 1560), (447, 1560), (484, 1508), (505, 1477)],
    "m1": [(8, 1327), (93, 1408), (8, 1458)], "m2": [(8, 1458), (93, 1408), (112, 1423), (93, 1445), (49, 1500), (8, 1483)],
    "m2b": [(112, 1423), (174, 1478), (149, 1551), (103, 1505), (57, 1493), (93, 1445)],
    "m2c": [(57, 1493), (103, 1505), (149, 1551), (147, 1560), (69, 1560), (49, 1500)],
    "m3": [(8, 1483), (49, 1500), (69, 1560), (8, 1560)], "m4": [(174, 1478), (274, 1560), (147, 1560)],
    # big cells, whose label is not near the middle of the cell
    "HIST2H2AC": [(870, 8), (1395, 8), (1185, 265), (975, 498), (850, 430), (775, 185)],
    "HIST1H2BK": [(1395, 8), (1505, 8), (1560, 80), (1560, 385), (1185, 265)],
    "HIST1H3B": [(725, 80), (850, 430), (845, 450), (645, 545), (670, 145)],
    "HIST1H2BJ": [(1185, 265), (1560, 385), (1560, 540), (1170, 870), (975, 498)],
    "HIST2H4B": [(640, 622), (645, 545), (845, 450), (975, 498), (1170, 870), (1060, 895), (895, 868)],
    "HIST1H2AG": [(850, 430), (975, 498), (845, 450)],
    "H2AFZ": [(808, 8), (870, 8), (775, 185), (745, 70), (728, 38)], "APEX1": [(690, 8), (808, 8), (728, 38)],
    "HMGB1": [(678, 8), (690, 8), (728, 38), (745, 70), (725, 80), (672, 115)], "PARP1": [(672, 115), (725, 80), (672, 145)],
    "TOP1": [(1505, 8), (1560, 8), (1560, 25), (1535, 22)], "TOP2B": [(1535, 26), (1560, 30), (1560, 60)],
    "H2AFX": [(1385, 8), (1410, 8), (1393, 18)],
    "HIST1H1C": [(1310, 760), (1440, 652), (1472, 695), (1478, 890), (1441, 904)],
    "HIST1H1B": [(1205, 842), (1310, 760), (1441, 904), (1425, 934), (1235, 918)],
    "NPM1": [(1472, 695), (1492, 664), (1525, 672), (1560, 660), (1560, 905), (1543, 920), (1479, 907), (1478, 890)],
    "H1FX": [(1441, 904), (1478, 892), (1479, 907), (1457, 934)], "H1F0": [(1441, 904), (1457, 934), (1425, 934)],
    "RUVBL2": [(1479, 907), (1543, 920), (1527, 940), (1457, 934)], "SSBP1": [(1543, 920), (1560, 905), (1560, 945), (1527, 940)],
    "HMGN2": [(1522, 572), (1560, 540), (1560, 590), (1535, 590)], "HMGB3": [(1535, 590), (1560, 590), (1560, 615), (1548, 618)],
    "HMGB2": [(1482, 617), (1522, 588), (1545, 620), (1560, 660), (1525, 672), (1492, 664)],
    "HMGN1": [(1456, 640), (1482, 615), (1492, 664), (1472, 695)], "CBX1": [(1440, 652), (1456, 640), (1472, 695)],
    "PPIA": [(100, 744), (295, 700), (333, 760), (263, 898), (186, 928), (85, 830)],
    "HSPA6": [(263, 898), (333, 760), (395, 748), (515, 878), (520, 905), (304, 966)],
    "HSP90AB1": [(395, 748), (412, 700), (437, 660), (562, 660), (626, 722), (647, 801), (515, 878)],
    "HSP90AA1": [(515, 878), (633, 808), (635, 855), (612, 893), (572, 915), (520, 905)],
    "HSPA8": [(304, 966), (520, 905), (538, 990), (527, 1010), (453, 1069), (365, 1083)],
    "PPIB": [(186, 928), (263, 898), (304, 966), (365, 1083)], "TXN": [(365, 1083), (453, 1069), (488, 1129), (437, 1171)],
    "FKBP1A": [(453, 1069), (527, 1010), (556, 1027), (570, 1060), (488, 1129)],
    "SERPINH1": [(295, 700), (351, 687), (356, 712), (362, 745), (333, 760)],
    "CCT8": [(351, 687), (412, 671), (423, 689), (395, 748), (362, 745)],
    "TMX3": [(412, 671), (448, 664), (423, 689)], "CCT7": [(440, 662), (541, 641), (560, 660)],
    "VIM": [(968, 1318), (1031, 1290), (1251, 1398), (1260, 1445), (1260, 1463), (1250, 1516), (1227, 1560), (920, 1560)],
    "TUBA1B": [(1031, 1278), (1209, 1219), (1279, 1347), (1259, 1386), (1251, 1398), (1031, 1290)],
    "MAP1B": [(949, 1305), (1031, 1278), (1031, 1290), (967, 1322)],
    "TUBB4B": [(805, 1350), (949, 1305), (967, 1320), (805, 1378)],
    "TUBB3": [(805, 1378), (968, 1318), (920, 1520), (870, 1535), (845, 1480)],
    "CFL1": [(662, 1395), (790, 1358), (805, 1378), (845, 1480), (805, 1535), (740, 1552), (705, 1534), (658, 1471)],
    "TUBB6": [(790, 1358), (805, 1350), (805, 1378)],
    "TMSB4X": [(658, 1471), (705, 1534), (674, 1560), (646, 1560)],
    "PLEC": [(1279, 1347), (1306, 1388), (1259, 1386)],
    "FLNA": [(1259, 1386), (1306, 1388), (1307, 1436), (1293, 1436), (1253, 1405)],
    "FLNC": [(1253, 1405), (1293, 1436), (1260, 1445)], "DSTN": [(1260, 1445), (1307, 1436), (1305, 1472), (1260, 1463)],
    "SPTBN1": [(1260, 1463), (1305, 1472), (1305, 1503), (1262, 1522), (1250, 1516)],
    "SPTB": [(1262, 1522), (1305, 1503), (1303, 1521), (1275, 1527)],
    "NES": [(1250, 1516), (1275, 1527), (1275, 1560), (1227, 1560)],
    "SPTAN1": [(1275, 1527), (1303, 1521), (1303, 1560), (1275, 1560)],
    "LMNA": [(1382, 1159), (1560, 1100), (1560, 1126), (1419, 1197)],
    "PFN1": [(1299, 1188), (1382, 1159), (1419, 1197), (1340, 1312), (1321, 1311)],
    "YWHAB": [(1419, 1197), (1560, 1126), (1560, 1340), (1492, 1359), (1390, 1297), (1374, 1266)],
    "SUGT1": [(1374, 1266), (1390, 1297), (1375, 1325), (1352, 1330), (1340, 1312)],
    "YWHAG": [(1390, 1297), (1480, 1352), (1465, 1383), (1398, 1382), (1375, 1325)],
    "YWHAH": [(1480, 1352), (1492, 1359), (1488, 1383), (1465, 1383)],
    "YWHAE": [(1492, 1359), (1560, 1340), (1560, 1385), (1488, 1383)],
    "LDHB": [(255, 1331), (332, 1315), (369, 1339), (259, 1466), (224, 1358)],
    "LDHA": [(369, 1339), (389, 1353), (313, 1534), (280, 1529), (259, 1466)],
    "GAPDH": [(389, 1353), (419, 1372), (368, 1493), (319, 1537), (313, 1534)],
    "ENO1": [(190, 1354), (224, 1358), (259, 1466), (276, 1522), (249, 1538), (111, 1425), (130, 1434), (137, 1391)],
    "ENO2": [(276, 1522), (280, 1529), (256, 1543), (249, 1538)],
    "HK1": [(280, 1529), (319, 1537), (295, 1560), (269, 1560), (256, 1543)],
    "PGK1": [(8, 1275), (65, 1243), (158, 1290), (164, 1312), (137, 1391), (102, 1409), (8, 1327)],
    "ALDOC": [(65, 1243), (92, 1220), (108, 1265)],
    "ALDOA": [(92, 1220), (136, 1185), (165, 1206), (171, 1245), (158, 1290), (108, 1265)],
    "ADH5": [(165, 1206), (221, 1243), (171, 1245)], "GPI": [(171, 1245), (221, 1243), (164, 1303), (158, 1290)],
    "PKM": [(221, 1243), (250, 1262), (255, 1331), (224, 1358), (190, 1354), (164, 1303)],
    "PGAM1": [(164, 1312), (190, 1354), (137, 1391)], "TPI1": [(102, 1409), (137, 1391), (130, 1434), (111, 1425)],
    "PFKL": [(250, 1262), (291, 1289), (283, 1297), (253, 1299)], "PFKM": [(253, 1299), (283, 1297), (290, 1323), (255, 1331)],
    "PFKP": [(283, 1297), (291, 1289), (332, 1315), (290, 1323)],
}
plain_labels = {"SUMO2", "CDC37", "ACKR1", "GART", "HADHA", "LYPLA1", "FDPS", "GNB1", "RAB5B", "CLIC1", "SYNCRIP"}

SIZE = 1568
FRAME = (7.5, 1560.5)
PX = 2512 / SIZE


def fit_split(points, labels, n_classes):
    # softmax start, then a multi-class hinge so the lines sit midway between the classes
    X = np.c_[points / SIZE * 100 - 50, np.full(len(points), 50.0)]
    onehot = np.eye(n_classes)[labels]
    W = np.zeros((n_classes, 3))
    m, v = np.zeros_like(W), np.zeros_like(W)
    n_soft, n_hinge = 800, 4000
    for step in range(1, n_soft + n_hinge + 1):
        s = X @ W.T
        if step <= n_soft:
            s = s - s.max(axis=1, keepdims=True)
            p = np.exp(s)
            p /= p.sum(axis=1, keepdims=True)
            grad = (X.T @ (p - onehot)).T / len(X)
            lr = 0.02
        else:
            masked = s - onehot * 1e9
            other = masked.argmax(axis=1)
            viol = s[np.arange(len(X)), labels] - masked.max(axis=1) < 1
            d = (np.eye(n_classes)[other] - onehot) * viol[:, None]
            grad = (X.T @ d).T / len(X) + 1e-5 * W
            lr = 0.02 * (1 - (step - n_soft) / n_hinge) + 0.001
        m = 0.9 * m + 0.1 * grad
        v = 0.999 * v + 0.001 * grad ** 2
        W -= lr * (m / (1 - 0.9 ** step)) / (np.sqrt(v / (1 - 0.999 ** step)) + 1e-9)
    k = 100 / SIZE
    return np.c_[W[:, 0] * k, W[:, 1] * k, 50 * (W[:, 2] - W[:, 0] - W[:, 1])]


def disk_samples(x, y, r):
    out = [(x, y)]
    for k, frac in ((8, 0.45), (12, 0.8)):
        ang = np.linspace(0, 2 * np.pi, k, endpoint=False)
        out += list(zip(x + frac * r * np.cos(ang), y + frac * r * np.sin(ang)))
    return out


def hull_samples(poly):
    poly = np.array(poly, dtype=float)
    c = poly.mean(axis=0)
    out = [tuple(c)]
    for i in range(len(poly)):
        p, q = poly[i], poly[(i + 1) % len(poly)]
        n = max(2, int(np.hypot(*(q - p)) / 20))
        for t in np.linspace(0, 1, n, endpoint=False):
            s = p + t * (q - p)
            d = c - s
            out.append(tuple(s + d / (np.hypot(*d) + 1e-9) * min(3.0, np.hypot(*d) * 0.4)))
    return out


def clip(poly, a, b, c):
    # keep the part of poly where a*x + b*y + c >= 0
    if not len(poly):
        return poly
    out = []
    d = [a * x + b * y + c for x, y in poly]
    for i in range(len(poly)):
        j = (i + 1) % len(poly)
        if d[i] >= 0:
            out.append(poly[i])
        if (d[i] >= 0) != (d[j] >= 0):
            t = d[i] / (d[i] - d[j])
            out.append((poly[i][0] + t * (poly[j][0] - poly[i][0]), poly[i][1] + t * (poly[j][1] - poly[i][1])))
    return out


def region(poly, W, i):
    for j in range(len(W)):
        if j != i:
            a, b, c = W[i] - W[j]
            poly = clip(poly, a, b, c)
    return poly


def seed_of(cell):
    return (cell[1], cell[2], cell[4])


def cells_under(name):
    if name in parents:
        return [c for kid in parents[name] for c in cells_under(kid)]
    return blocks[name]


def samples_of(name):
    if name in hulls:
        return hull_samples(hulls[name])
    return [p for c in cells_under(name) for p in disk_samples(*seed_of(c))]


def open_edges(poly):
    # edges of the outline, without those lying on the outer frame
    segs = []
    for i in range(len(poly)):
        p, q = poly[i], poly[(i + 1) % len(poly)]
        on_frame = any(abs(p[k] - f) < 0.01 and abs(q[k] - f) < 0.01 for k in (0, 1) for f in FRAME)
        if not on_frame:
            segs.append([p, q])
    return segs


def pick(px, py, W):
    return np.argmax(W[:, 0][None] * px[:, None] + W[:, 1][None] * py[:, None] + W[:, 2][None], axis=1)


def fit_named(names, sampler):
    pts, labs = [], []
    for k, name in enumerate(names):
        s = sampler(name)
        pts += s
        labs += [k] * len(s)
    return fit_split(np.array(pts), np.array(labs), len(names))


cells, cell_colors = [], []
frame_poly = [(FRAME[0], FRAME[0]), (FRAME[1], FRAME[0]), (FRAME[1], FRAME[1]), (FRAME[0], FRAME[1])]
yy, xx = np.mgrid[0:SIZE, 0:SIZE] + 0.5
inside = (xx > FRAME[0]) & (xx < FRAME[1]) & (yy > FRAME[0]) & (yy < FRAME[1])
px, py = xx[inside], yy[inside]
grid_vals = np.full(len(px), -1, dtype=int)
edges = {0: [], 1: [], 2: [], 3: []}
thin = []


def carve(name, poly, idx, depth):
    if name in parents:
        kids = parents[name]
        W = fit_named(kids, samples_of) if len(kids) > 1 else np.zeros((1, 3))
        which = pick(px[idx], py[idx], W)
        for k, kid in enumerate(kids):
            sub = region(poly, W, k) if len(kids) > 1 else poly
            edges[depth] += open_edges(sub)
            carve(kid, sub, idx[which == k], depth + 1)
        return
    block = blocks[name]
    if any(c[0] in hulls for c in block):
        names = [c[0] if c[0] else "#" + str(i) for i, c in enumerate(block)]
        by_name = dict(zip(names, block))
        W = fit_named(names, lambda n: hull_samples(hulls[n]) if n in hulls else disk_samples(*seed_of(by_name[n])))
    else:
        s = np.array([seed_of(c) for c in block], dtype=float)
        W = np.c_[2 * s[:, 0], 2 * s[:, 1], s[:, 2] ** 2 - s[:, 0] ** 2 - s[:, 1] ** 2]
    start = len(cells)
    if len(idx):
        grid_vals[idx] = start + pick(px[idx], py[idx], W)
    for n, cell in enumerate(block):
        cells.append(cell)
        cell_colors.append(cell[5])
        thin.extend(open_edges(region(poly, W, n)))


carve("root", frame_poly, np.arange(len(px)), 0)

grid = np.full((SIZE, SIZE), len(cells), dtype=int)
grid[inside] = grid_vals

sns.set_theme(style="white")
plt.rcParams["font.family"] = "DejaVu Sans"

fig = plt.figure(figsize=(25.12, 25.12), dpi=100, facecolor="black")
ax = fig.add_axes([0, 0, 1, 1])
cmap = ListedColormap(cell_colors + ["#000000"])
sns.heatmap(grid, cmap=cmap, vmin=-0.5, vmax=len(cells) + 0.5, cbar=False,
            xticklabels=False, yticklabels=False, ax=ax)
ax.set_xlim(0, SIZE)
ax.set_ylim(SIZE, 0)

ax.add_collection(LineCollection(thin, colors="#101018", linewidths=0.85, capstyle="round"))
ax.add_collection(LineCollection(edges[2] + edges[3], colors="black", linewidths=1.9, capstyle="round"))
ax.add_collection(LineCollection(edges[1], colors="black", linewidths=2.6, capstyle="round"))
ax.add_collection(LineCollection(edges[0], colors="black", linewidths=5.6, capstyle="round"))
ax.add_patch(Rectangle((0, 0), SIZE, SIZE, fill=False, edgecolor="#3a3a3a", linewidth=1.5))

for name, x, y, w, r, color in cells:
    if not name:
        continue
    weight = "normal" if name in plain_labels else "bold"
    fp = FontProperties(family="DejaVu Sans", weight=weight)
    unit = TextPath((0, 0), name, size=100, prop=fp).get_extents().width
    size = w * PX * 0.72 / (unit / 100)
    em = size / 0.72 / PX
    off = max(0.35, size * 0.015)
    ax.text(x, y + 0.365 * em, name, ha="center", va="baseline", color="white", fontproperties=fp, fontsize=size,
            path_effects=[pe.withSimplePatchShadow(offset=(off, -off), shadow_rgbFace="black", alpha=0.45)])

fig.savefig("out.png", dpi=100, facecolor="black")
